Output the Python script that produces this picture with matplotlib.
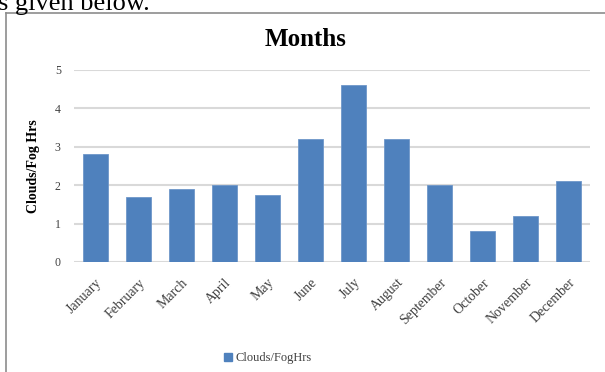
import matplotlib
matplotlib.use("Agg")
import matplotlib.pyplot as plt
from matplotlib.lines import Line2D
from matplotlib.patches import Patch

months = ["January", "February", "March", "April", "May", "June", "July",
          "August", "September", "October", "November", "December"]
values = [2.8, 1.7, 1.9, 2.0, 1.75, 3.2, 4.6, 3.2, 2.0, 0.8, 1.2, 2.1]
yticks = [0, 1, 2, 3, 4, 5]
series_name = "Clouds/FogHrs"
ylabel = "Clouds/Fog Hrs"
title = "Months"

W, H = 605, 372
fig = plt.figure(figsize=(W / 100, H / 100), dpi=100)
plt.rcParams['font.family'] = ['Liberation Serif', 'DejaVu Serif']

bar_color = "#4f81bd"
text_color = "#404040"

ax = fig.add_axes([74 / W, 1 - 262 / H, 516 / W, 192 / H])
x = list(range(len(months)))
ax.bar(x, values, width=0.58, color=bar_color, edgecolor="#6f97c9",
       linewidth=0.6, zorder=3)
ax.set_xlim(-0.5, len(months) - 0.5)
ax.set_ylim(0, 5)
ax.set_yticks(yticks)
ax.set_yticklabels([str(v) for v in yticks], fontsize=8.5, color=text_color)
ax.set_xticks(x)
ax.set_xticklabels(months, rotation=45, ha="right", rotation_mode="anchor",
                   fontsize=10, color=text_color)
ax.tick_params(axis="both", length=0)
ax.tick_params(axis="y", pad=9.5)
ax.tick_params(axis="x", pad=10)
ax.grid(axis="y", color="#d9d9d9", linewidth=1.5, zorder=0)
for s in ax.spines.values():
    s.set_visible(False)
ax.set_ylabel(ylabel, fontsize=10, fontweight="bold", color="black")
ax.yaxis.set_label_coords(-(74 - 40) / 516, 0.5)

fig.text(306 / W, 1 - 40 / H, title, fontsize=18, fontweight="bold",
         ha="center", va="center", color="black")

# legend
fig.legend(handles=[Patch(facecolor=bar_color, edgecolor=bar_color, label=series_name)],
           loc="center", bbox_to_anchor=(268 / W, 1 - 358 / H), frameon=False,
           fontsize=9, handlelength=0.6, handleheight=0.6, handletextpad=0.3,
           labelcolor=text_color)

# chart border (left and top)
fig.add_artist(Line2D([6 / W, 6 / W], [0, 1 - 13 / H], color="#8c8c8c",
                      linewidth=1.2, transform=fig.transFigure))
fig.add_artist(Line2D([6 / W, 1], [1 - 13 / H, 1 - 13 / H], color="#8c8c8c",
                      linewidth=1.2, transform=fig.transFigure))

# cropped document text above the chart
fig.text(-2 / W, 1 - 10 / H, "s given below.", fontsize=19, ha="left",
         va="baseline", color="black")

fig.savefig("out.png", dpi=100)
